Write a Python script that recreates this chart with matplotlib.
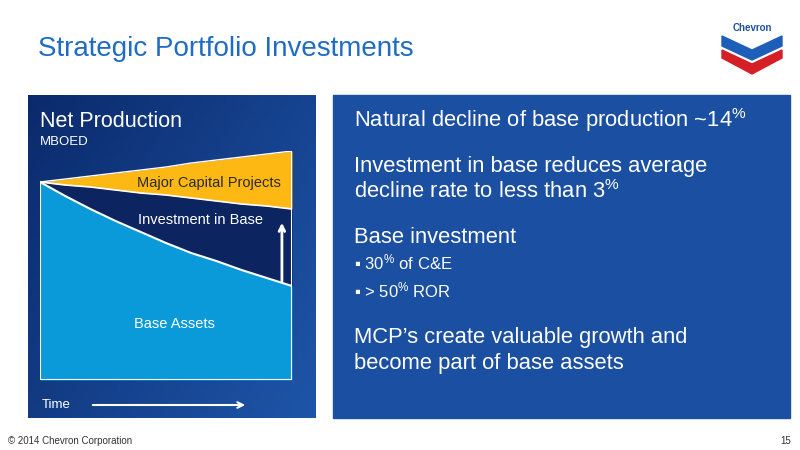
import matplotlib
matplotlib.use("Agg")
import matplotlib.pyplot as plt
import numpy as np
from matplotlib.patches import Rectangle, Polygon

plt.rcParams['font.family'] = ['Liberation Sans', 'DejaVu Sans']
plt.rcParams['mathtext.default'] = 'regular'

# chart data (relative production units)
time = [0, 1, 2, 3, 4, 5, 6, 7, 8, 9, 10]
base_assets = [198, 184, 171, 159, 148, 137, 127, 119, 110, 102, 94]
with_investment = [198, 195, 193, 190, 187, 185, 182, 179, 176, 174, 171]
with_mcp = [198, 201, 204, 207, 210, 213, 217, 220, 223, 226, 229]

fig = plt.figure(figsize=(8, 4.5), dpi=100)
bg = fig.add_axes([0, 0, 1, 1])
bg.set_xlim(0, 800)
bg.set_ylim(450, 0)
bg.axis('off')

# title
bg.text(38, 56, "Strategic Portfolio Investments", color='#1f6cc4', fontsize=20, va='baseline')

# left panel gradient
gx, gy = np.meshgrid(np.linspace(0, 1, 64), np.linspace(0, 1, 64))
g = (gx * 0.6 + gy * 0.4)
c0 = np.array([0x0b, 0x2a, 0x6c]) / 255
c1 = np.array([0x1e, 0x55, 0xa8]) / 255
img = c0 + (c1 - c0) * g[..., None]
bg.imshow(img, extent=[28, 316, 418, 95], aspect='auto', zorder=1)

# right panel
bg.add_patch(Rectangle((333, 95), 457, 323, color='#1b4fa2', zorder=1))

bg.text(40, 127, "Net Production", color='white', fontsize=15.5, zorder=3)
bg.text(40, 145, "MBOED", color='white', fontsize=9.5, zorder=3)
bg.text(42, 408, "Time", color='white', fontsize=9.5, zorder=3)
bg.annotate("", xy=(248, 405), xytext=(90, 405), zorder=3,
            arrowprops=dict(arrowstyle='->', color='white', lw=1.5))

# chart
ax = fig.add_axes([40 / 800, 1 - 380 / 450, 252 / 800, 229 / 450], zorder=2)
ax.set_xlim(0, 10)
ax.set_ylim(0, 229)
ax.axis('off')
ax.fill_between(time, 0, base_assets, color='#0a9ad9', lw=0)
ax.fill_between(time, base_assets, with_investment, color='#0c2460', lw=0)
ax.fill_between(time, with_investment, with_mcp, color='#fdb813', lw=0)
ax.plot(time, with_mcp, color='white', lw=1)
ax.plot(time, with_investment, color='white', lw=1.2)
ax.plot(time, base_assets, color='white', lw=1.5)
ax.plot([10, 10, 0, 0], [with_mcp[-1], 0, 0, base_assets[0]], color='white', lw=1.5)
ax.annotate("", xy=(9.6, 160), xytext=(9.6, 96),
            arrowprops=dict(arrowstyle='->', color='white', lw=2))
ax.text(6.7, 197, "Major Capital Projects", ha='center', va='center', fontsize=10.5, color='#2a2a2a')
ax.text(6.35, 160, "Investment in Base", ha='center', va='center', fontsize=10.5, color='white')
ax.text(5.35, 56, "Base Assets", ha='center', va='center', fontsize=10.5, color='white')

# right text
tx = 354
kw = dict(color='white', fontsize=15.8, zorder=3)
bg.text(tx, 127, r"Natural decline of base production ~14$^{\%}$", **kw)
bg.text(tx, 172, "Investment in base reduces average", **kw)
bg.text(tx, 198, r"decline rate to less than 3$^{\%}$", **kw)
bg.text(tx, 243, "Base investment", **kw)
bg.text(tx, 269, r"▪ 30$^{\%}$ of C&E", color='white', fontsize=12, zorder=3)
bg.text(tx, 297, r"▪ > 50$^{\%}$ ROR", color='white', fontsize=12, zorder=3)
bg.text(tx, 343, "MCP’s create valuable growth and", **kw)
bg.text(tx, 369, "become part of base assets", **kw)

# logo
bg.text(752, 31, "Chevron", color='#1f4fa0', fontsize=7, fontweight='bold', ha='center', zorder=3)
bg.add_patch(Polygon([(722, 36), (752, 50), (782, 36), (782, 46), (752, 60), (722, 46)],
                     color='#1d5fb8', zorder=3))
bg.add_patch(Polygon([(722, 50), (752, 64), (782, 50), (782, 58), (752, 74), (722, 58)],
                     color='#d51f26', zorder=3))

# footer
bg.text(8, 444, "© 2014 Chevron Corporation", fontsize=7, color='#333333')
bg.text(780, 444, "15", fontsize=7, color='#333333')

fig.savefig("out.png", dpi=100)
